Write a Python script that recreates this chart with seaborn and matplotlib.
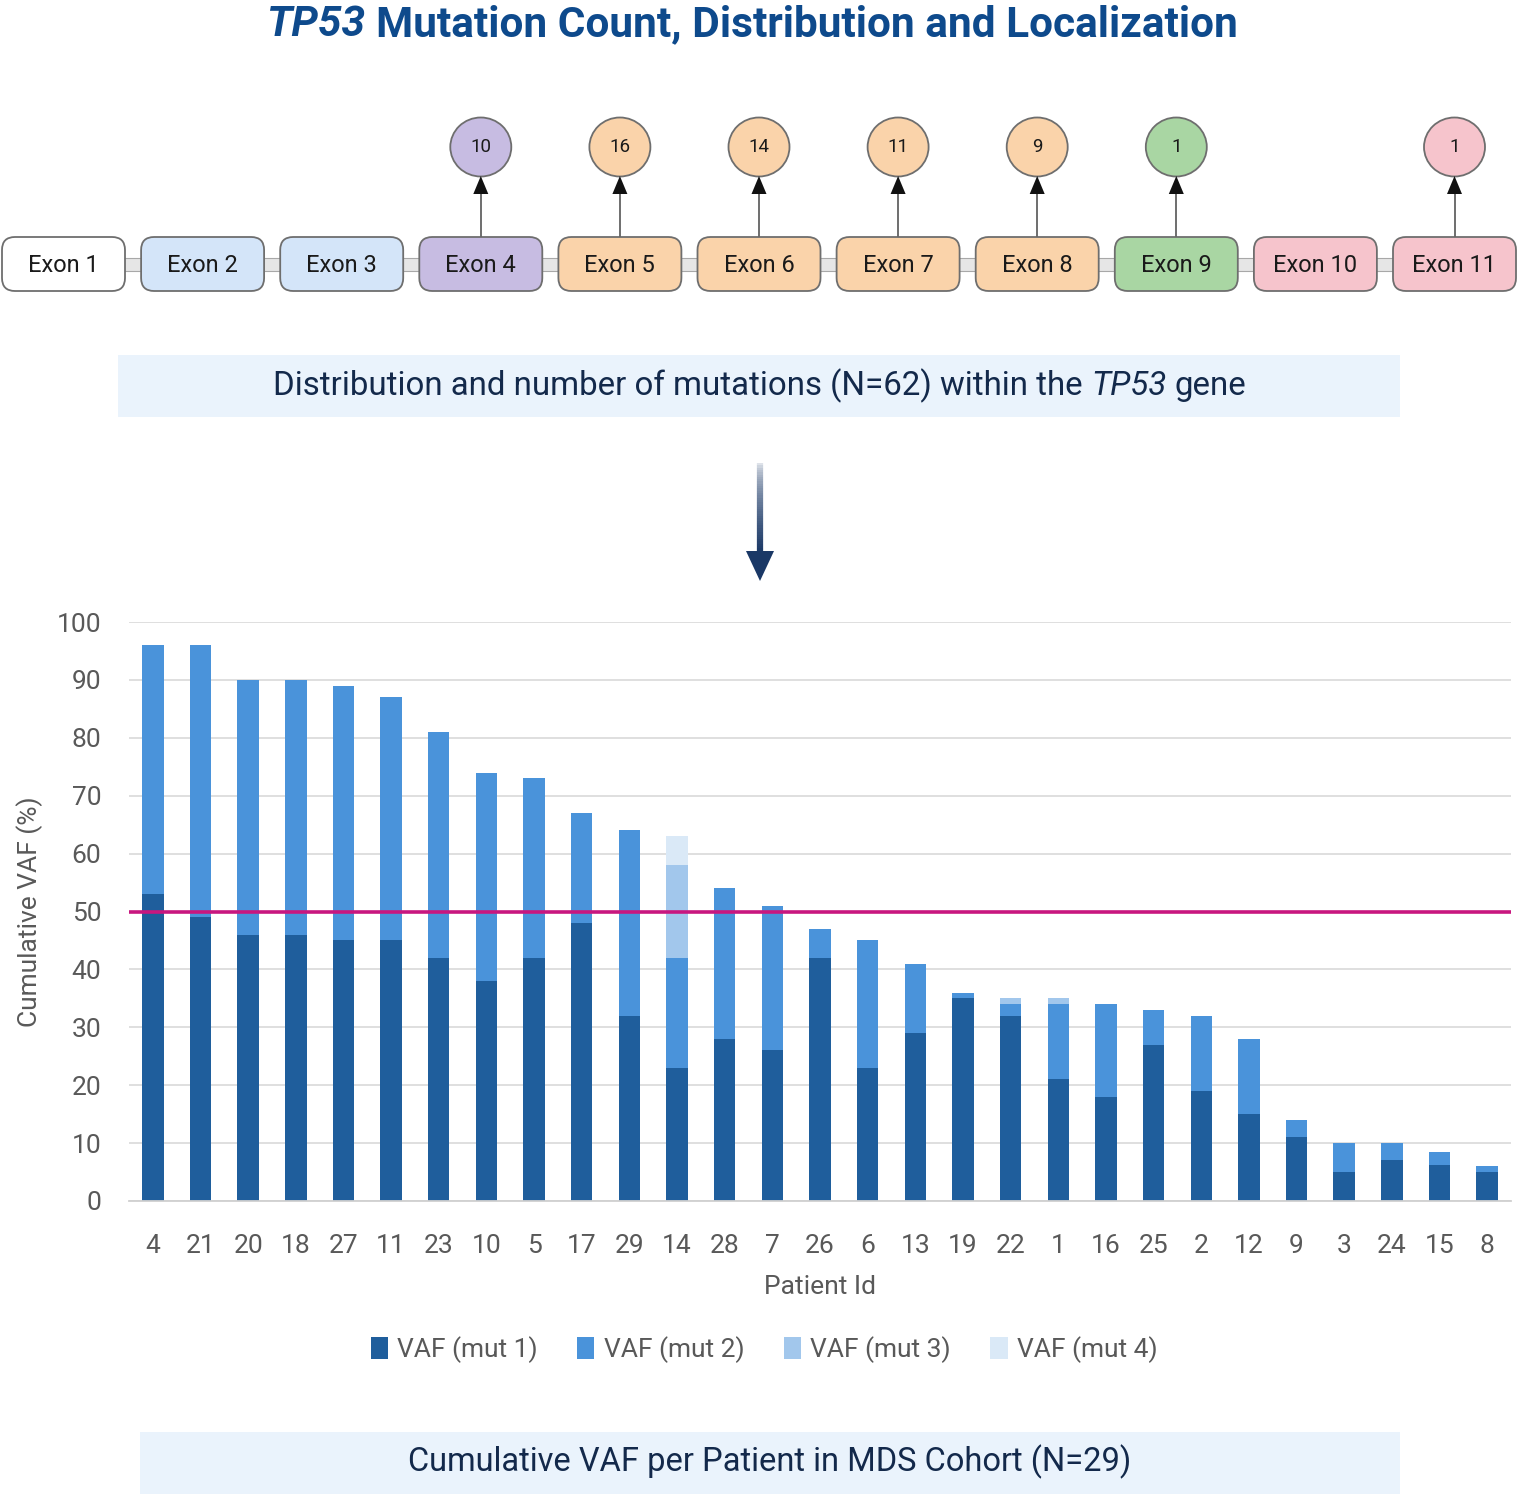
import numpy as np
import pandas as pd
import seaborn as sns
import matplotlib
matplotlib.use("Agg")
import matplotlib.pyplot as plt
from matplotlib.patches import FancyBboxPatch, Rectangle, Ellipse, Polygon, Patch
from matplotlib.collections import LineCollection

# ---- data ----
patients = ["4", "21", "20", "18", "27", "11", "23", "10", "5", "17", "29", "14", "28", "7",
            "26", "6", "13", "19", "22", "1", "16", "25", "2", "12", "9", "3", "24", "15", "8"]
vaf_mut1 = [53, 49, 46, 46, 45, 45, 42, 38, 42, 48, 32, 23, 28, 26,
            42, 23, 29, 35, 32, 21, 18, 27, 19, 15, 11, 5, 7, 6.3, 5]
vaf_mut2 = [43, 47, 44, 44, 44, 42, 39, 36, 31, 19, 32, 19, 26, 25,
            5, 22, 12, 1, 2, 13, 16, 6, 13, 13, 3, 5, 3, 2.2, 1]
vaf_mut3 = [0, 0, 0, 0, 0, 0, 0, 0, 0, 0, 0, 16, 0, 0,
            0, 0, 0, 0, 1, 1, 0, 0, 0, 0, 0, 0, 0, 0, 0]
vaf_mut4 = [0, 0, 0, 0, 0, 0, 0, 0, 0, 0, 0, 5, 0, 0,
            0, 0, 0, 0, 0, 0, 0, 0, 0, 0, 0, 0, 0, 0, 0]
threshold = 50

exons = ["Exon 1", "Exon 2", "Exon 3", "Exon 4", "Exon 5", "Exon 6",
         "Exon 7", "Exon 8", "Exon 9", "Exon 10", "Exon 11"]
exon_mutations = [0, 0, 0, 10, 16, 14, 11, 9, 1, 0, 1]
exon_colors = ["#FFFFFF", "#D4E5F9", "#D4E5F9", "#C7BCE2", "#FAD3AA", "#FAD3AA",
               "#FAD3AA", "#FAD3AA", "#A9D6A3", "#F6C4CC", "#F6C4CC"]

layer_names = ["VAF (mut 1)", "VAF (mut 2)", "VAF (mut 3)", "VAF (mut 4)"]
layer_colors = ["#1F5E9C", "#4A93DA", "#A2C7EC", "#DAE9F7"]

sns.set_theme(style="white")
plt.rcParams["font.family"] = ["Roboto", "DejaVu Sans"]

fig = plt.figure(figsize=(15.19, 14.94), dpi=100)
W, H = 1519, 1494

# background axes in pixel coordinates for the diagram parts
bg = fig.add_axes([0, 0, 1, 1])
bg.set_xlim(0, W)
bg.set_ylim(H, 0)
bg.axis("off")

renderer = fig.canvas.get_renderer()


def rich_text(x, y, parts, size, color, weight="normal", gap=0.25):
    # parts: list of (text, style); laid out left to right and centred on x
    objs = []
    for txt, style in parts:
        t = bg.text(0, y, txt, fontsize=size, color=color, fontweight=weight,
                    fontstyle=style, ha="left", va="center")
        objs.append(t)
    widths = [t.get_window_extent(renderer).width for t in objs]
    space = size * gap * 100 / 72
    total = sum(widths) + space * (len(objs) - 1)
    cur = x - total / 2
    for t, w in zip(objs, widths):
        t.set_x(cur)
        cur += w + space


# title
rich_text(752, 25, [("TP53", "italic"), ("Mutation Count, Distribution and Localization", "normal")],
          30.5, "#0E4A8C", weight="bold")

# exon track
bg.add_patch(Rectangle((4, 258), 1511, 13, facecolor="#E6E6E6", edgecolor="#A8A8A8", lw=0.8, zorder=1))
step, bw = 139.1, 123
for i, (name, n, col) in enumerate(zip(exons, exon_mutations, exon_colors)):
    left = 2 + i * step
    cx = left + bw / 2
    bg.add_patch(FancyBboxPatch((left, 237), bw, 54, boxstyle="round,pad=0,rounding_size=13",
                                facecolor=col, edgecolor="#6E6E6E", lw=1.3, zorder=2))
    bg.text(cx, 265, name, ha="center", va="center", fontsize=17, color="#1A1A1A", zorder=3)
    if n > 0:
        bg.add_patch(Ellipse((cx, 147), 61, 59, facecolor=col, edgecolor="#6E6E6E", lw=1.3, zorder=2))
        bg.text(cx, 147, str(n), ha="center", va="center", fontsize=13.5, color="#1A1A1A", zorder=3)
        bg.plot([cx, cx], [236, 192], color="#555555", lw=1.2, zorder=2)
        bg.add_patch(Polygon([(cx - 7.5, 194), (cx + 7.5, 194), (cx, 176)], closed=True,
                             facecolor="#111111", edgecolor="none", zorder=3))

# middle caption box
bg.add_patch(Rectangle((118, 355), 1282, 62, facecolor="#EAF3FC", edgecolor="none"))
rich_text(760, 386, [("Distribution and number of mutations (N=62) within the", "normal"),
                     ("TP53", "italic"), ("gene", "normal")], 23.8, "#13294B")

# down arrow with fading shaft
ys = np.linspace(463, 553, 40)
segs = [[(760, ys[k]), (760, ys[k + 1])] for k in range(len(ys) - 1)]
alphas = np.sqrt(np.linspace(0.02, 1, len(segs)))
cols = [(0.10, 0.22, 0.40, a) for a in alphas]
bg.add_collection(LineCollection(segs, colors=cols, linewidths=4.5))
bg.add_patch(Polygon([(746, 551), (774, 551), (760, 581)], closed=True,
                     facecolor="#1A3866", edgecolor="none"))

# bottom caption box
bg.add_patch(Rectangle((140, 1432), 1260, 62, facecolor="#EAF3FC", edgecolor="none"))
bg.text(770, 1462, "Cumulative VAF per Patient in MDS Cohort (N=29)", ha="center", va="center",
        fontsize=23.5, color="#13294B")

# ---- stacked bar chart ----
df = pd.DataFrame({"patient": patients, "m1": vaf_mut1, "m2": vaf_mut2,
                   "m3": vaf_mut3, "m4": vaf_mut4})
df["c1"] = df["m1"]
df["c2"] = df["c1"] + df["m2"]
df["c3"] = df["c2"] + df["m3"]
df["c4"] = df["c3"] + df["m4"]

ax = fig.add_axes([129 / W, (H - 1201) / H, (1511 - 129) / W, (1201 - 622) / H])
for col, color in zip(["c4", "c3", "c2", "c1"], layer_colors[::-1]):
    sns.barplot(data=df, x="patient", y=col, order=patients, color=color,
                width=0.45, saturation=1, linewidth=0, ax=ax, zorder=2)
ax.axhline(threshold, color="#C8177F", lw=2.6, zorder=4)

ax.set_ylim(0, 100)
ax.set_xlim(-0.5, len(patients) - 0.5)
ax.set_yticks(range(0, 101, 10))
ax.yaxis.grid(True, color="#DCDCDC", lw=1.3, zorder=0)
ax.set_axisbelow(True)
for s in ["top", "right", "left"]:
    ax.spines[s].set_visible(False)
ax.spines["bottom"].set_color("#D0D0D0")
ax.spines["bottom"].set_linewidth(1.3)
ax.tick_params(axis="both", length=0, labelsize=19, labelcolor="#595959")
ax.tick_params(axis="y", pad=20)
ax.tick_params(axis="x", pad=24)
ax.set_ylabel("")
ax.set_xlabel("Patient Id", fontsize=19, color="#595959", labelpad=12)
fig.text(30 / W, 1 - 912 / H, "Cumulative VAF (%)", rotation=90, ha="center", va="center",
         fontsize=19, color="#595959")

handles = [Patch(facecolor=c, edgecolor="none", label=n) for n, c in zip(layer_names, layer_colors)]
fig.legend(handles=handles, loc="center", bbox_to_anchor=(764 / W, 1 - 1350 / H), ncol=4,
           frameon=False, fontsize=19, labelcolor="#595959", handlelength=0.65, handleheight=0.9,
           handletextpad=0.35, columnspacing=1.5)

fig.savefig("out.png", dpi=100)
